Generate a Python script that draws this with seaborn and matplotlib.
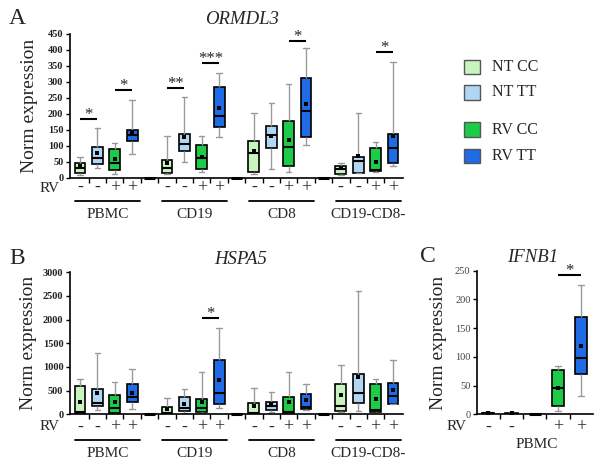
import numpy as np
import pandas as pd
import matplotlib
matplotlib.use("Agg")
import matplotlib.pyplot as plt
import seaborn as sns
from matplotlib.patches import Rectangle

sns.set_style("white")
plt.rcParams["font.family"] = ["Liberation Serif", "DejaVu Serif"]

# ---------------- data ----------------
cells = ["PBMC", "CD19", "CD8", "CD19-CD8-"]
conditions = ["NT CC", "NT TT", "RV CC", "RV TT"]
rv_signs = ["-", "-", "+", "+"]
colors = ["#c8f5bf", "#b0d6f5", "#1ccb48", "#1f6be6"]

# Panel A: ORMDL3 (order: cell x condition)
ormdl3_low  = [8, 30, 12, 74,    12, 48, 18, 128,   12, 27, 19, 103,   8, 14, 17, 38]
ormdl3_q1   = [14, 42, 23, 115,  14, 84, 26, 158,   19, 92, 35, 128,   11, 16, 21, 45]
ormdl3_med  = [30, 61, 47, 134,  30, 105, 61, 194,  77, 134, 97, 208,  27, 52, 24, 92]
ormdl3_q3   = [45, 96, 90, 149,  56, 137, 101, 283, 113, 160, 178, 310, 38, 64, 92, 136]
ormdl3_high = [66, 155, 108, 244, 129, 253, 129, 328, 202, 234, 291, 404, 47, 202, 110, 362]
ormdl3_mean = [35, 77, 58, 143,  47, 127, 66, 216,  82, 129, 119, 231,  30, 68, 48, 131]

# Panel B: HSPA5
hspa5_low  = [0, 91, 5, 106,     0, 21, 34, 127,    0, 49, 0, 91,      42, 76, 0, 211]
hspa5_q1   = [10, 175, 21, 266,  5, 76, 49, 218,    6, 91, 21, 106,    63, 245, 42, 218]
hspa5_med  = [55, 245, 127, 359, 34, 127, 140, 443, 21, 175, 49, 161,  182, 443, 91, 387]
hspa5_q3   = [605, 528, 408, 634, 161, 359, 317, 1147, 245, 260, 359, 423, 640, 845, 634, 655]
hspa5_high = [746, 1289, 676, 951, 338, 535, 887, 1817, 549, 478, 887, 647, 1042, 2611, 740, 1147]
hspa5_mean = [266, 443, 254, 443, 106, 218, 266, 725, 175, 218, 266, 302, 408, 795, 317, 514]

# Panel C: IFNB1 (PBMC only)
ifnb1_low  = [0.3, 0.3, 6, 31]
ifnb1_q1   = [0.8, 0.6, 15, 70]
ifnb1_med  = [1.5, 1.2, 45, 98]
ifnb1_q3   = [2.5, 2.0, 77, 169]
ifnb1_high = [3.5, 3.0, 84, 225]
ifnb1_mean = [2.0, 1.5, 45, 118]

# significance annotations
sigA_cell  = ["PBMC", "PBMC", "CD19", "CD19", "CD8", "CD19-CD8-"]
sigA_from  = ["NT CC", "RV CC", "NT CC", "RV CC", "RV CC", "RV CC"]
sigA_to    = ["NT TT", "RV TT", "NT TT", "RV TT", "RV TT", "RV TT"]
sigA_label = ["*", "*", "**", "***", "*", "*"]
sigA_y     = [183, 273, 279, 359, 428, 392]

sigB_cell  = ["CD19"]
sigB_from  = ["RV CC"]
sigB_to    = ["RV TT"]
sigB_label = ["*"]
sigB_y     = [2041]

sigC_from  = ["RV CC"]
sigC_to    = ["RV TT"]
sigC_label = ["*"]
sigC_y     = [242]

yticksA = list(range(0, 451, 50))
yticksB = list(range(0, 3001, 500))
yticksC = list(range(0, 251, 50))

# ---------------- helpers ----------------
W, H = 602, 470
def fx(p):
    return p / W
def fy(p):
    return 1 - p / H


def slot_name(cell, cond):
    return f"{cell}|{cond}"


def build_order(cell_list):
    order = []
    for k, c in enumerate(cell_list):
        for cond in conditions:
            order.append(slot_name(c, cond))
        if k < len(cell_list) - 1:
            order.append(f"gap{k}")
    return order


def build_frames(cell_list, cond_list, lo, q1, med, q3, hi, mean):
    rows, mrows = [], []
    i = 0
    for c in cell_list:
        for cond in cond_list:
            for v in (lo[i], q1[i], med[i], q3[i], hi[i]):
                rows.append(dict(slot=slot_name(c, cond), condition=cond, value=v))
            mrows.append(dict(slot=slot_name(c, cond), condition=cond, mean=mean[i]))
            i += 1
    return pd.DataFrame(rows), pd.DataFrame(mrows)


def draw_boxes(ax, df, mdf, order, width):
    sns.boxplot(data=df, x="slot", y="value", hue="condition", order=order,
                hue_order=conditions, palette=colors, dodge=False, width=width,
                whis=(0, 100), saturation=1, linecolor="black", linewidth=1.2,
                whiskerprops=dict(color="#9a9a9a", linewidth=1.0),
                capprops=dict(color="#9a9a9a", linewidth=1.0),
                medianprops=dict(color="black", linewidth=1.5),
                legend=False, ax=ax)
    sns.stripplot(data=mdf, x="slot", y="mean", order=order, jitter=False,
                  marker="s", color="black", size=3.3, linewidth=0, ax=ax, zorder=6)
    for i, s in enumerate(order):
        if s.startswith("gap"):
            ax.hlines(0, i - width / 2, i + width / 2, color="black", lw=2.2,
                      zorder=4, clip_on=False)


def style_axis(ax, order, yticks, ylim, bold=True, pad=1.0):
    ax.set_xlim(-0.6, len(order) - 0.4)
    ax.set_ylim(*ylim)
    ax.set_yticks(yticks)
    ax.set_yticklabels([str(t) for t in yticks], fontsize=7.5,
                       fontweight="bold" if bold else "normal",
                       color="#222222" if bold else "#444444")
    box_idx = [i for i, s in enumerate(order) if not s.startswith("gap")]
    labs = [rv_signs[conditions.index(order[i].split("|")[1])] for i in box_idx]
    ax.set_xticks(box_idx, labels=labs)
    ax.set_xticks([i + 0.5 for i in range(len(order) - 1)], minor=True)
    ax.tick_params(axis="x", which="major", length=0, pad=pad, labelsize=13)
    ax.tick_params(axis="x", which="minor", length=3.5, width=1, direction="out",
                   bottom=True, color="black")
    ax.tick_params(axis="y", which="major", length=3, width=1, direction="out",
                   left=True, pad=1.5, color="black")
    ax.set_xlabel("")
    ax.set_ylabel("Norm expression", fontsize=14)
    for sp in ["top", "right"]:
        ax.spines[sp].set_visible(False)
    for sp in ["left", "bottom"]:
        ax.spines[sp].set_linewidth(1.2)
        ax.spines[sp].set_color("black")


def sig(ax, x1, x2, y, label):
    ax.plot([x1, x2], [y, y], color="black", lw=1.5, solid_capstyle="butt",
            clip_on=False)
    ax.text((x1 + x2) / 2, y, label, ha="center", va="baseline", fontsize=12)


def groups(ax, order, cell_list, y_line, y_text, underline=True):
    tr = ax.get_xaxis_transform()
    for c in cell_list:
        idx = [order.index(slot_name(c, cond)) for cond in conditions]
        cx = np.mean(idx) + 0.08
        if underline:
            ax.plot([cx - 1.87, cx + 1.87], [y_line, y_line], color="black", lw=1.3,
                    transform=tr, clip_on=False)
        ax.text(cx, y_text, c, transform=tr, ha="center", va="center", fontsize=11)


# ---------------- figure ----------------
fig = plt.figure(figsize=(W / 100, H / 100), dpi=100)

orderA = build_order(cells)

# Panel A
axA = fig.add_axes([fx(69.6), fy(177.7), fx(403.4) - fx(69.6), fy(33.5) - fy(177.7)])
dfA, mA = build_frames(cells, conditions, ormdl3_low, ormdl3_q1, ormdl3_med,
                       ormdl3_q3, ormdl3_high, ormdl3_mean)
draw_boxes(axA, dfA, mA, orderA, 0.62)
style_axis(axA, orderA, yticksA, (0, 450), bold=True, pad=1.0)
axA.yaxis.set_label_coords(-0.095, 0.5)
for c, a, b, l, y in zip(sigA_cell, sigA_from, sigA_to, sigA_label, sigA_y):
    sig(axA, orderA.index(slot_name(c, a)), orderA.index(slot_name(c, b)), y, l)
groups(axA, orderA, cells, -0.1595, -0.252)

# Panel B
axB = fig.add_axes([fx(69.6), fy(414.3), fx(403.4) - fx(69.6), fy(272.3) - fy(414.3)])
dfB, mB = build_frames(cells, conditions, hspa5_low, hspa5_q1, hspa5_med,
                       hspa5_q3, hspa5_high, hspa5_mean)
draw_boxes(axB, dfB, mB, orderA, 0.62)
style_axis(axB, orderA, yticksB, (0, 3000), bold=True, pad=3.0)
axB.yaxis.set_label_coords(-0.098, 0.5)
for c, a, b, l, y in zip(sigB_cell, sigB_from, sigB_to, sigB_label, sigB_y):
    sig(axB, orderA.index(slot_name(c, a)), orderA.index(slot_name(c, b)), y, l)
groups(axB, orderA, cells, -0.181, -0.2746)

# Panel C
orderC = [slot_name("PBMC", "NT CC"), slot_name("PBMC", "NT TT"), "gapC",
          slot_name("PBMC", "RV CC"), slot_name("PBMC", "RV TT")]
axC = fig.add_axes([fx(476.7), fy(414.3), fx(592.7) - fx(476.7), fy(270.6) - fy(414.3)])
dfC, mC = build_frames(["PBMC"], conditions, ifnb1_low, ifnb1_q1, ifnb1_med,
                       ifnb1_q3, ifnb1_high, ifnb1_mean)
draw_boxes(axC, dfC, mC, orderC, 0.52)
style_axis(axC, orderC, yticksC, (0, 250), bold=False, pad=3.0)
axC.set_xlim(-0.5, 4.5)
axC.yaxis.set_label_coords(-0.256, 0.5)
for a, b, l, y in zip(sigC_from, sigC_to, sigC_label, sigC_y):
    sig(axC, orderC.index(slot_name("PBMC", a)), orderC.index(slot_name("PBMC", b)), y, l)
groups(axC, orderC, ["PBMC"], 0, -0.2088, underline=False)

# RV row labels
fig.text(fx(60), fy(188.5), "RV", ha="right", va="center", fontsize=11)
fig.text(fx(60), fy(427), "RV", ha="right", va="center", fontsize=11)
fig.text(fx(467), fy(427), "RV", ha="right", va="center", fontsize=11)

# titles and panel letters
fig.text(fx(241.5), fy(20), "ORMDL3", style="italic", fontsize=13.5, ha="center", va="center")
fig.text(fx(241), fy(260), "HSPA5", style="italic", fontsize=13.5, ha="center", va="center")
fig.text(fx(533), fy(257), "IFNB1", style="italic", fontsize=13.5, ha="center", va="center")
fig.text(fx(17), fy(18), "A", fontsize=17, ha="center", va="center")
fig.text(fx(17), fy(258), "B", fontsize=17, ha="center", va="center")
fig.text(fx(428), fy(257), "C", fontsize=17, ha="center", va="center")

# legend
leg_y = [67, 92.5, 129.5, 156]
for cond, col, yc in zip(conditions, colors, leg_y):
    fig.add_artist(Rectangle((fx(464.3), fy(yc + 7)), 16 / W, 14 / H,
                             transform=fig.transFigure, facecolor=col,
                             edgecolor="#555555", lw=1))
    fig.text(fx(491.7), fy(yc), cond, ha="left", va="center", fontsize=11.5)

fig.savefig("out.png", dpi=100)
